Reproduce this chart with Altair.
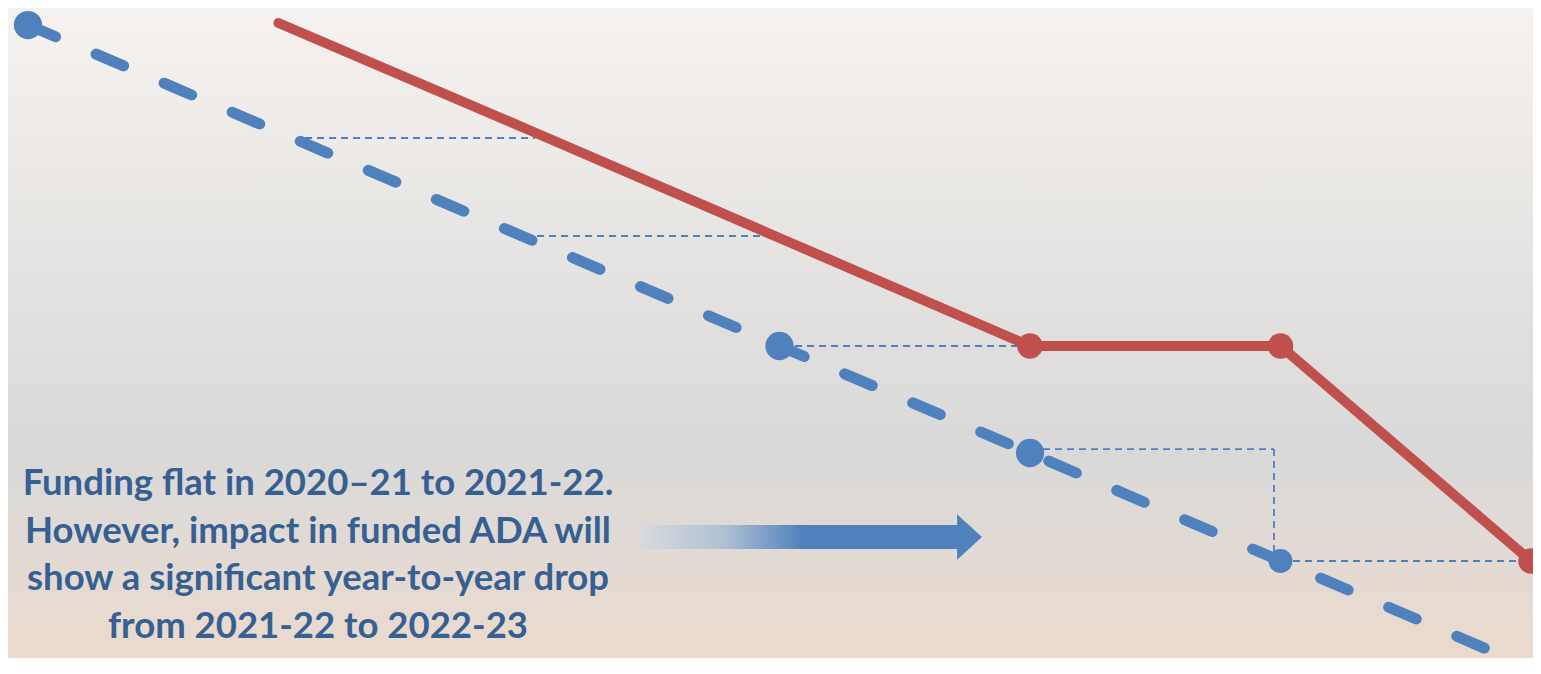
import altair as alt
import pandas as pd

# ---- data ----
years = ["2016-17", "2017-18", "2018-19", "2019-20", "2020-21", "2021-22", "2022-23"]
period = [0, 1, 2, 3, 4, 5, 6]
ada = [97.38, 80.92, 64.46, 48.0, 31.54, 14.92, -1.54]          # blue dashed series
funded = [None, 97.69, 81.23, 64.62, 48.0, 48.0, 14.92]          # red solid series
ada_markers_large = [0, 3, 4]
ada_markers_small = [5]
funded_markers = [4, 5, 6]

# thin dashed connector guides
guide_x_start = [1.106, 2.032, 3.062, 4.004, 4.974, 5.002]
guide_x_end = [2.024, 2.974, 4.004, 4.974, 4.974, 6.0]
guide_y_start = [80.0, 64.92, 48.0, 32.15, 32.15, 14.92]
guide_y_end = [80.0, 64.92, 48.0, 32.15, 14.92, 14.92]

note_lines = [
    "Funding flat in 2020\u201321 to 2021-22.",
    "However, impact in funded ADA will",
    "show a significant year-to-year drop",
    "from 2021-22 to 2022-23",
]

BLUE = "#4f81bd"
RED = "#c0504d"
W, H = 1525, 650

df = pd.DataFrame({"period": period, "year": years, "ada": ada, "funded": funded})
red_df = df.dropna(subset=["funded"])
guides = pd.DataFrame({"x": guide_x_start, "x2": guide_x_end,
                       "y": guide_y_start, "y2": guide_y_end})

xs = alt.Scale(domain=[-0.0798, 6.008], nice=False, zero=False)
ys = alt.Scale(domain=[0, 100], nice=False, zero=False)

one = pd.DataFrame({"a": [0]})

bg = alt.Chart(one).mark_rect(
    fill=alt.LinearGradient(
        gradient="linear", x1=0, x2=0, y1=0, y2=1,
        stops=[alt.GradientStop(color="#f5f2ef", offset=0),
               alt.GradientStop(color="#e5e3e1", offset=0.4),
               alt.GradientStop(color="#d9d9d9", offset=0.68),
               alt.GradientStop(color="#e3dad3", offset=0.86),
               alt.GradientStop(color="#ebdacd", offset=1)]),
).encode(x=alt.value(0), x2=alt.value(W), y=alt.value(0), y2=alt.value(H))

guide_layer = alt.Chart(guides).mark_rule(
    color=BLUE, strokeWidth=1.8, strokeDash=[7, 5]
).encode(
    x=alt.X("x:Q", scale=xs, axis=None), x2="x2:Q",
    y=alt.Y("y:Q", scale=ys, axis=None), y2="y2:Q",
)

blue_line = alt.Chart(df).mark_line(
    color=BLUE, strokeWidth=11, strokeDash=[30, 44], strokeCap="round"
).encode(
    x=alt.X("period:Q", scale=xs, axis=None),
    y=alt.Y("ada:Q", scale=ys, axis=None),
)

red_line = alt.Chart(red_df).mark_line(
    color=RED, strokeWidth=10, strokeCap="round", strokeJoin="round"
).encode(
    x=alt.X("period:Q", scale=xs, axis=None),
    y=alt.Y("funded:Q", scale=ys, axis=None),
)

blue_big = alt.Chart(df).transform_filter(
    alt.FieldOneOfPredicate(field="period", oneOf=ada_markers_large)
).mark_circle(color=BLUE, size=800, opacity=1).encode(
    x=alt.X("period:Q", scale=xs, axis=None),
    y=alt.Y("ada:Q", scale=ys, axis=None),
)

blue_small = alt.Chart(df).transform_filter(
    alt.FieldOneOfPredicate(field="period", oneOf=ada_markers_small)
).mark_circle(color=BLUE, size=570, opacity=1).encode(
    x=alt.X("period:Q", scale=xs, axis=None),
    y=alt.Y("ada:Q", scale=ys, axis=None),
)

red_pts = alt.Chart(red_df).transform_filter(
    alt.FieldOneOfPredicate(field="period", oneOf=funded_markers)
).mark_circle(color=RED, size=650, opacity=1).encode(
    x=alt.X("period:Q", scale=xs, axis=None),
    y=alt.Y("funded:Q", scale=ys, axis=None),
)

arrow_path = "M-1,-0.07L0.854,-0.07L0.854,-0.134L1,0L0.854,0.134L0.854,0.07L-1,0.07Z"
arrow = alt.Chart(one).mark_point(
    shape=arrow_path, size=341 * 341, filled=True, opacity=1, strokeWidth=0,
    fill=alt.LinearGradient(
        gradient="linear", x1=0, x2=1, y1=0, y2=0,
        stops=[alt.GradientStop(color="#d8dadd", offset=0),
               alt.GradientStop(color="#aebfd3", offset=0.25),
               alt.GradientStop(color=BLUE, offset=0.475),
               alt.GradientStop(color=BLUE, offset=1)]),
).encode(x=alt.value(803.5), y=alt.value(529))

note = alt.Chart(one).mark_text(
    text=note_lines, font="Lato", fontWeight="bold", fontSize=36.5,
    color="#376092", align="center", baseline="middle", lineHeight=47.7,
).encode(x=alt.value(310), y=alt.value(476))

chart = alt.layer(
    bg, guide_layer, blue_line, red_line, blue_big, blue_small, red_pts, arrow, note
).properties(
    width=W, height=H, padding=0,
    autosize=alt.AutoSizeParams(type="none"),
    background="#e6e4e2",
).configure_view(strokeWidth=0)

chart.save("out.html", embed_options={"renderer": "svg", "actions": False})
